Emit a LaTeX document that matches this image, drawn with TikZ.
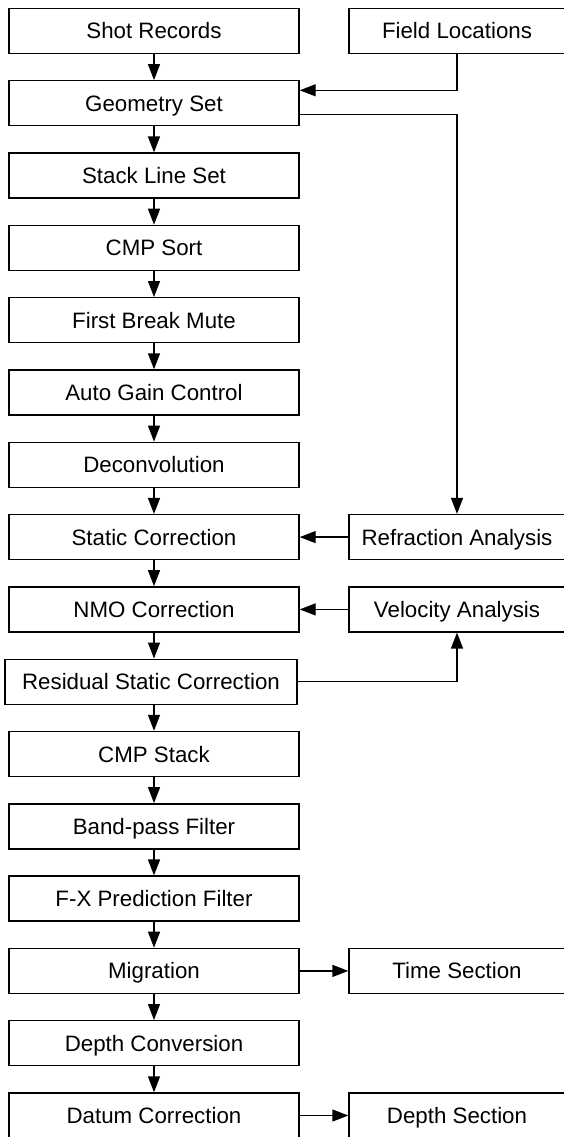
\documentclass[tikz,border=0pt]{standalone}
\usepackage{fontspec}
\setmainfont{Liberation Sans}
\usetikzlibrary{calc,arrows.meta}
\begin{document}
\begin{tikzpicture}[x=1pt,y=-1pt,
  box/.style={draw,line width=1.4pt,minimum width=290pt,minimum height=45pt,inner sep=0pt,text height=16.5pt,text depth=0.5pt,font=\fontsize{22.3}{25}\selectfont},
  rbox/.style={box,minimum width=216pt},
  arr/.style={line width=1.4pt,-{Triangle[length=16pt,width=12pt]}}]
\clip (0,0) rectangle (564,1137);
\fill[white] (0,0) rectangle (564,1137);
\node[box] (sr) at (154,31) {Shot Records};
\node[box] (gs) at (154,103.3) {Geometry Set};
\node[box] (sl) at (154,175.6) {Stack Line Set};
\node[box] (cs) at (154,247.9) {CMP Sort};
\node[box] (fb) at (154,320.2) {First Break Mute};
\node[box] (ag) at (154,392.5) {Auto Gain Control};
\node[box] (dc) at (154,464.8) {Deconvolution};
\node[box] (sc) at (154,537.1) {Static Correction};
\node[box] (nmo) at (154,609.4) {NMO Correction};
\node[box,minimum width=292pt] (rs) at (151,681.7) {Residual Static Correction};
\node[box] (cst) at (154,754) {CMP Stack};
\node[box] (bp) at (154,826.3) {Band-pass Filter};
\node[box] (fx) at (154,898.6) {F-X Prediction Filter};
\node[box] (mig) at (154,970.9) {Migration};
\node[box] (dcv) at (154,1043.2) {Depth Conversion};
\node[box] (dat) at (154,1115.5) {Datum Correction};
\node[rbox] (fl) at (457,31) {Field Locations};
\node[rbox] (ra) at (457,537.1) {Refraction Analysis};
\node[rbox] (va) at (457,609.4) {Velocity Analysis};
\node[rbox] (ts) at (457,970.9) {Time Section};
\node[rbox] (ds) at (457,1115.5) {Depth Section};
\foreach \a/\b in {sr/gs,gs/sl,sl/cs,cs/fb,fb/ag,ag/dc,dc/sc,sc/nmo,cst/bp,bp/fx,fx/mig,mig/dcv,dcv/dat}
  \draw[arr] (\a.south) -- (\b.north);
\draw[arr] (nmo.south) -- (nmo.south |- rs.north);
\draw[arr] (rs.south -| nmo.south) -- (cst.north);
\coordinate (gin) at ($(gs.east)+(0,-13)$);
\coordinate (gout) at ($(gs.east)+(0,11)$);
\draw[arr] (fl.south) |- (gin);
\draw[arr] (gout) -| (ra.north);
\draw[arr] (ra.west) -- (sc.east);
\draw[arr] (va.west) -- (nmo.east);
\draw[arr] (rs.east) -| (va.south);
\draw[arr] (mig.east) -- (ts.west);
\draw[arr] (dat.east) -- (ds.west);
\end{tikzpicture}
\end{document}
